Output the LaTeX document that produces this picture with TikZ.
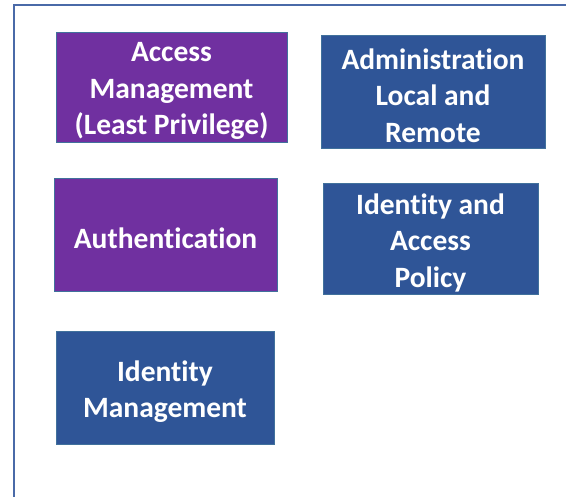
\documentclass[tikz,border=0pt]{standalone}
\usepackage{fontspec}
\setmainfont{Carlito}[Ligatures=NoCommon]
\definecolor{purp}{HTML}{7030A0}
\definecolor{blu}{HTML}{2F5597}
\definecolor{framec}{HTML}{4A6AA8}
\definecolor{edgec}{HTML}{41719C}
\begin{document}
\begin{tikzpicture}[x=1pt,y=-1pt,
  box/.style={rectangle, draw=edgec, line width=0.8pt, inner sep=0pt},
  lbl/.style={text=white, font=\fontsize{29.5}{36.5}\selectfont\bfseries,
    align=center, inner sep=0pt, yshift=-4pt}]
\useasboundingbox (0,0) rectangle (566,497);
\coordinate (tr) at (566,5);
\coordinate (tl) at (14,5);
\coordinate (bl) at (14,497);
\draw[framec, line width=2pt] (tr) -- (tl) -- (bl);
\node[box, fill=purp, minimum width=231pt, minimum height=110pt,
  label={[lbl]center:Access\\Management\\(Least Privilege)}] (am) at (171.5,87) {};
\node[box, fill=blu, minimum width=224pt, minimum height=113pt,
  label={[lbl]center:Administration\\Local and\\Remote}] (adm) at (433,91.5) {};
\node[box, fill=purp, minimum width=223pt, minimum height=113pt,
  label={[lbl]center:Authentication}] (auth) at (165.5,234.5) {};
\node[box, fill=blu, minimum width=215pt, minimum height=111pt,
  label={[lbl]center:Identity and\\Access\\Policy}] (iap) at (430.5,238.5) {};
\node[box, fill=blu, minimum width=218pt, minimum height=113pt,
  label={[lbl]center:Identity\\Management}] (idm) at (165,387.5) {};
\end{tikzpicture}
\end{document}
